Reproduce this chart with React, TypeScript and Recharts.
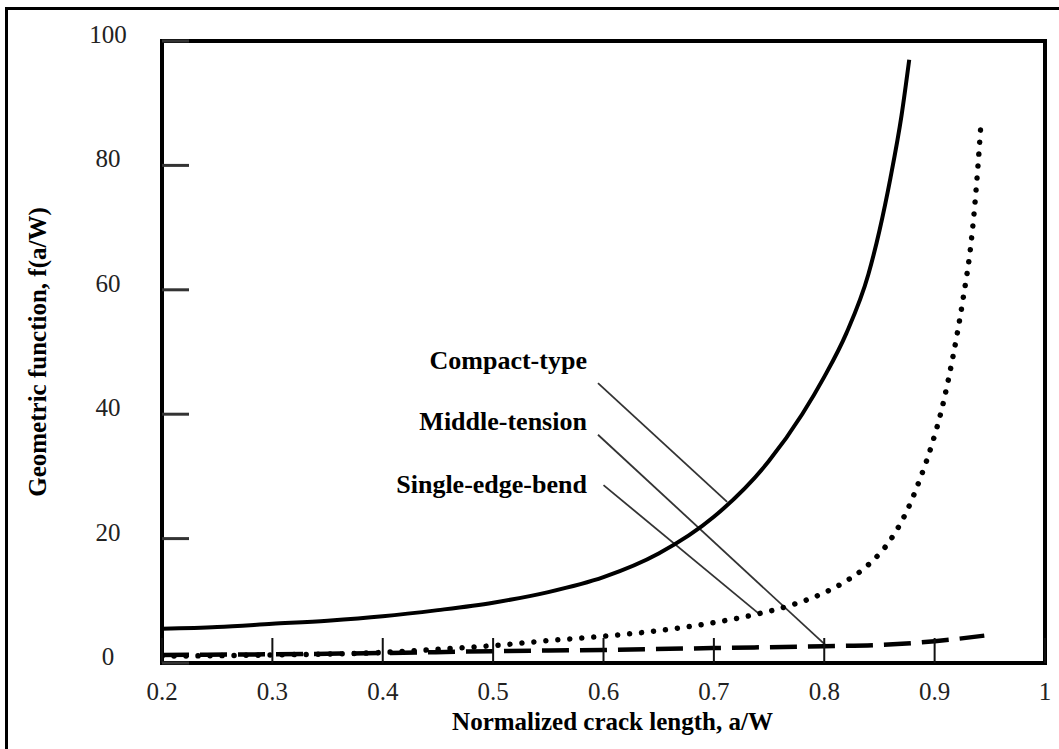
import React from 'react';
import { LineChart, Line, XAxis, YAxis, ReferenceArea, ReferenceLine, ReferenceDot, Label } from 'recharts';

const FONT = '"Liberation Serif", "Times New Roman", Times, serif';

// Axis ticks
const xTicks = [0.2, 0.3, 0.4, 0.5, 0.6, 0.7, 0.8, 0.9, 1];
const yTicks = [0, 20, 40, 60, 80, 100];

// Compact-type (solid)
const compactX = [0.2, 0.25, 0.3, 0.35, 0.4, 0.45, 0.5, 0.55, 0.6, 0.65, 0.7, 0.75, 0.78, 0.8, 0.82, 0.84, 0.85, 0.86, 0.87, 0.877];
const compactY = [5.5, 5.8, 6.3, 6.8, 7.5, 8.5, 9.7, 11.4, 13.8, 17.6, 23.5, 32.5, 40.0, 46.0, 53.0, 62.5, 69.5, 78.0, 88.0, 97.0];

// Middle-tension (dashed)
const middleX = [0.2, 0.3, 0.4, 0.5, 0.6, 0.7, 0.8, 0.85, 0.9, 0.945];
const middleY = [1.3, 1.4, 1.6, 1.9, 2.1, 2.4, 2.7, 2.9, 3.5, 4.4];

// Single-edge-bend (dotted)
const singleX = [0.2, 0.3, 0.4, 0.45, 0.5, 0.55, 0.6, 0.65, 0.7, 0.74, 0.77, 0.8, 0.82, 0.84, 0.86, 0.875, 0.887, 0.898, 0.907, 0.916, 0.926, 0.933, 0.938, 0.942];
const singleY = [1.1, 1.3, 1.7, 2.2, 2.8, 3.6, 4.3, 5.2, 6.5, 7.9, 9.3, 11.3, 13.2, 15.8, 19.8, 24.5, 29.7, 35.4, 41.2, 48.7, 58.8, 67.5, 77.0, 86.8];

// Annotations (data coordinates)
const annLabels = ['Compact-type', 'Middle-tension', 'Single-edge-bend'];
const annTextX = [0.585, 0.585, 0.585];
const annTextY = [47.3, 37.5, 27.3];
const leaderStartX = [0.595, 0.595, 0.6];
const leaderStartY = [45.0, 36.7, 28.6];
const leaderEndX = [0.712, 0.801, 0.741];
const leaderEndY = [25.9, 2.9, 7.9];

const toPoints = (xs: number[], ys: number[]) => xs.map((x, i) => ({ x, y: ys[i] }));
const compactData = toPoints(compactX, compactY);
const middleData = toPoints(middleX, middleY);
const singleData = toPoints(singleX, singleY);

const XTick = (props: any) => {
  const { x, y, payload } = props;
  return (
    <g>
      <line x1={x} y1={y} x2={x} y2={y - 25} stroke="#111" strokeWidth={2} />
      <text x={x} y={y + 37} textAnchor="middle" fontFamily={FONT} fontSize={25} fill="#222">
        {String(payload.value)}
      </text>
    </g>
  );
};

const YTick = (props: any) => {
  const { x, y, payload } = props;
  return (
    <g>
      <line x1={x} y1={y} x2={x + 27} y2={y} stroke="#333" strokeWidth={3} />
      <text x={x - 54} y={y + 2} textAnchor="middle" fontFamily={FONT} fontSize={25} fill="#222">
        {String(payload.value)}
      </text>
    </g>
  );
};

const XTitle = (props: any) => {
  const vb = props.viewBox || { x: 0, y: 0, width: 0, height: 0 };
  return (
    <text x={vb.x + vb.width / 2 + 9} y={vb.y + 67} textAnchor="middle" fontFamily={FONT} fontWeight="bold" fontSize={25} fill="#000">
      Normalized crack length, a/W
    </text>
  );
};

const YTitle = (props: any) => {
  const vb = props.viewBox || { x: 0, y: 0, width: 0, height: 0 };
  const cx = vb.x + 37;
  const cy = vb.y + vb.height / 2;
  return (
    <text x={cx} y={cy} dy="0.35em" transform={`rotate(-90 ${cx} ${cy})`} textAnchor="middle" fontFamily={FONT} fontWeight="bold" fontSize={25} fill="#000">
      Geometric function, f(a/W)
    </text>
  );
};

const makeTextShape = (label: string) => (p: any) => (
  <text x={p.cx} y={p.cy} textAnchor="end" fontFamily={FONT} fontWeight="bold" fontSize={26} fill="#000">
    {label}
  </text>
);

export default function App() {
  return (
    <div style={{ position: 'fixed', left: 0, top: 0, width: 1059, height: 749, overflow: 'hidden', background: '#fff' }}>
      <div
        style={{
          position: 'absolute',
          left: 5,
          top: 7,
          width: 1070,
          height: 770,
          border: '3px solid #000',
          boxSizing: 'border-box',
        }}
      />
      <div style={{ position: 'absolute', left: 0, top: 0 }}>
        <LineChart width={1059} height={749} margin={{ top: 41, right: 14, bottom: 0, left: 0 }}>
          <XAxis
            type="number"
            dataKey="x"
            domain={[0.2, 1]}
            ticks={xTicks}
            interval={0}
            height={86}
            tickSize={0}
            tickMargin={0}
            tickLine={false}
            axisLine={false}
            tick={<XTick />}
            allowDataOverflow
          >
            <Label content={<XTitle />} />
          </XAxis>
          <YAxis
            type="number"
            domain={[0, 100]}
            ticks={yTicks}
            interval={0}
            width={162}
            tickSize={0}
            tickMargin={0}
            tickLine={false}
            axisLine={false}
            tick={<YTick />}
            allowDataOverflow
          >
            <Label content={<YTitle />} />
          </YAxis>
          <ReferenceArea x1={0.2} x2={1} y1={0} y2={100} fill="none" stroke="#000" strokeWidth={4} ifOverflow="visible" />
          {annLabels.map((lab, i) => (
            <ReferenceLine
              key={'l' + i}
              segment={[
                { x: leaderStartX[i], y: leaderStartY[i] },
                { x: leaderEndX[i], y: leaderEndY[i] },
              ]}
              stroke="#333"
              strokeWidth={1.8}
              ifOverflow="visible"
            />
          ))}
          {annLabels.map((lab, i) => (
            <ReferenceDot key={'t' + i} x={annTextX[i]} y={annTextY[i]} r={0} ifOverflow="visible" shape={makeTextShape(lab)} />
          ))}
          <Line
            data={middleData}
            dataKey="y"
            type="monotone"
            stroke="#000"
            strokeWidth={4.5}
            strokeDasharray="27 11"
            dot={false}
            activeDot={false}
            isAnimationActive={false}
          />
          <Line
            data={singleData}
            dataKey="y"
            type="monotone"
            stroke="#000"
            strokeWidth={5.5}
            strokeLinecap="round"
            strokeDasharray="0.01 12"
            dot={false}
            activeDot={false}
            isAnimationActive={false}
          />
          <Line
            data={compactData}
            dataKey="y"
            type="monotone"
            stroke="#000"
            strokeWidth={4}
            dot={false}
            activeDot={false}
            isAnimationActive={false}
          />
        </LineChart>
      </div>
    </div>
  );
}
